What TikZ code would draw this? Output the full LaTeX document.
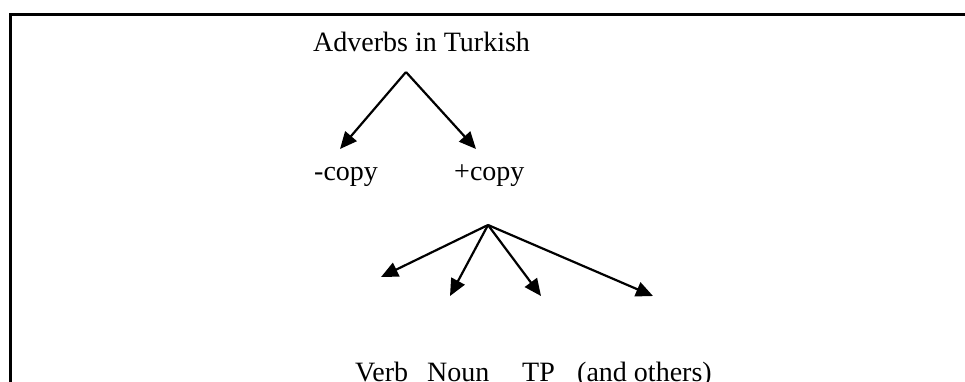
\documentclass[tikz,border=0pt]{standalone}
\usepackage{fontspec}
\setmainfont{Liberation Serif}
\usetikzlibrary{arrows.meta}
\begin{document}
\begin{tikzpicture}[x=1pt,y=-1pt,
  lbl/.style={inner sep=0pt,anchor=base west,font=\fontsize{28}{30}\selectfont},
  branch/.style={line width=2.2pt,-{Triangle[length=17pt,width=15pt]}},
  frame/.style={line width=2.3pt,line cap=rect}]
\useasboundingbox (0,0) rectangle (965,381);
\fill[white] (0,0) rectangle (965,381);
% open frame: top and left edges
\draw[frame] (965,14.5) -- (10.5,14.5) -- (10.5,390);
% labels
\node[lbl] (root)   at (313,51)  {Adverbs in Turkish};
\node[lbl] (minus)  at (314,180) {-copy};
\node[lbl] (plus)   at (454,180) {+copy};
\node[lbl] (verb)   at (355,381) {Verb};
\node[lbl] (noun)   at (427,381) {Noun};
\node[lbl] (tp)     at (522,381) {TP};
\node[lbl] (others) at (577,381) {(and others)};
% branching points and arrow ends
\coordinate (top)  at (406,72);
\coordinate (tm)   at (340,149);
\coordinate (tp2)  at (476,149);
\coordinate (fork) at (488,225);
\coordinate (t1)   at (381,277);
\coordinate (t2)   at (450,296);
\coordinate (t3)   at (541,296);
\coordinate (t4)   at (653,296);
% arrows
\draw[branch] (top) -- (tm);
\draw[branch] (top) -- (tp2);
\draw[branch] (fork) -- (t1);
\draw[branch] (fork) -- (t2);
\draw[branch] (fork) -- (t3);
\draw[branch] (fork) -- (t4);
\end{tikzpicture}
\end{document}
